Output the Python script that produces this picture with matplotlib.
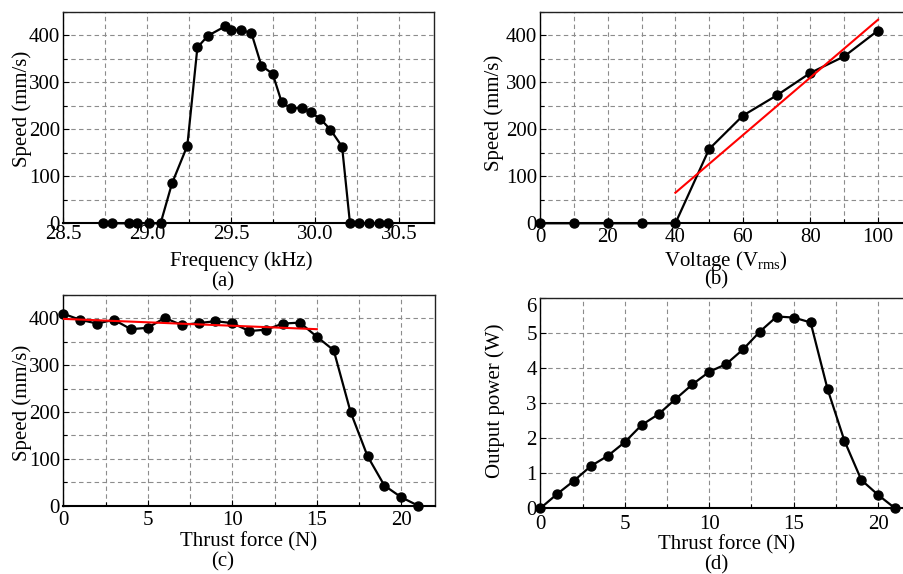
import matplotlib
matplotlib.use("Agg")
import matplotlib.pyplot as plt
import matplotlib.transforms as mtransforms
from matplotlib.ticker import MultipleLocator, FormatStrFormatter

plt.rcParams['font.family'] = ['Liberation Serif', 'DejaVu Serif']
plt.rcParams['mathtext.fontset'] = 'custom'
plt.rcParams['mathtext.rm'] = 'Liberation Serif'
plt.rcParams['mathtext.it'] = 'Liberation Serif:italic'

# (a) speed vs frequency
freq_khz = [28.734, 28.79, 28.889, 28.94, 29.012, 29.079, 29.147, 29.238, 29.298, 29.361,
            29.464, 29.5, 29.556, 29.619, 29.679, 29.746, 29.80, 29.853, 29.92, 29.972,
            30.03, 30.09, 30.159, 30.206, 30.262, 30.321, 30.381, 30.433]
speed_a = [0, 0, 0, 0, 0, 0, 85, 165, 374, 399,
           419, 411, 411, 405, 335, 318, 257, 245, 245, 236,
           222, 199, 163, 0, 0, 0, 0, 0]

# (b) speed vs voltage
voltage = [0, 10, 20, 30, 40, 50, 60, 70, 80, 90, 100]
speed_b = [0, 0, 0, 0, 0, 158, 229, 272, 320, 355, 410]
fit_b_x = [40, 100]
fit_b_y = [65, 433]

# (c) speed vs thrust force
force = list(range(0, 22))
speed_c = [410, 397, 389, 397, 377, 380, 401, 386, 390, 394, 390,
           373, 376, 389, 391, 361, 332, 200, 106, 43, 18, 0]
fit_c_x = [0, 15]
fit_c_y = [399, 377]

# (d) output power vs thrust force
power_d = [0, 0.41, 0.79, 1.21, 1.50, 1.89, 2.38, 2.69, 3.12, 3.54, 3.90,
           4.12, 4.54, 5.05, 5.48, 5.45, 5.31, 3.41, 1.93, 0.81, 0.38, 0]

W, H = 904, 574
fig = plt.figure(figsize=(W / 100, H / 100), dpi=100)

def px_axes(left, right, top, bottom):
    return fig.add_axes([left / W, 1 - bottom / H, (right - left) / W, (bottom - top) / H])

FS = 15

def style(ax, xmaj, xmin, ymaj, ymin, xfmt=None, xpad=3.5):
    ax.xaxis.set_major_locator(MultipleLocator(xmaj))
    ax.xaxis.set_minor_locator(MultipleLocator(xmin))
    ax.yaxis.set_major_locator(MultipleLocator(ymaj))
    ax.yaxis.set_minor_locator(MultipleLocator(ymin))
    if xfmt:
        ax.xaxis.set_major_formatter(FormatStrFormatter(xfmt))
    ax.grid(True, which='both', color='#8c8c8c', linestyle=(0, (4, 3)), linewidth=0.8)
    ax.set_axisbelow(True)
    ax.tick_params(which='both', direction='in', labelsize=FS, top=False, right=False)
    ax.tick_params(which='major', length=4, width=0.8)
    ax.tick_params(axis='y', which='major', pad=2.5)
    ax.tick_params(axis='x', which='major', pad=xpad)
    ax.tick_params(which='minor', length=3, width=0.8)
    for s in ax.spines.values():
        s.set_linewidth(1.0)
        s.set_color('#222222')
    ax.spines['left'].set_color('black')
    ax.spines['bottom'].set_color('black')
    ax.spines['bottom'].set_linewidth(1.5)

def labels(ax, xl, yl, xlx, xly, ylx, yly, tag, tx, ty):
    ax.set_xlabel(xl, fontsize=FS, labelpad=0)
    ax.set_ylabel(yl, fontsize=FS)
    ax.xaxis.set_label_coords(xlx, -xly)
    ax.yaxis.set_label_coords(ylx, yly)
    fig.text(tx / W, 1 - ty / H, tag, ha='center', va='baseline', fontsize=FS)

mk = dict(color='black', marker='o', markersize=6.5, linewidth=1.6, clip_on=False, zorder=3)

# (a)
axa = px_axes(63.3, 434, 11.7, 223.3)
axa.plot(freq_khz, speed_a, **mk)
axa.set_xlim(28.5, 30.706)
axa.set_ylim(0, 450)
style(axa, 0.5, 0.25, 100, 50, '%.1f', xpad=1.0)
labels(axa, 'Frequency (kHz)', 'Speed (mm/s)', 0.479, 0.134, -0.084, 0.54, '(a)', 222.5, 286)

# (b)
axb = px_axes(540.3, 911.8, 11.7, 223.3)
axb.plot(voltage, speed_b, **mk)
axb.plot(fit_b_x, fit_b_y, color='red', linewidth=1.5, zorder=4)
axb.set_xlim(0, 110)
axb.set_ylim(0, 450)
style(axb, 20, 10, 100, 50, xpad=3.5)
labels(axb, r'Voltage (V$_{\mathrm{rms}}$)', 'Speed (mm/s)', 0.5, 0.123, -0.098, 0.52, '(b)', 716, 284)

# (c)
axc = px_axes(63.3, 435.1, 295, 505.7)
axc.plot(force, speed_c, **mk)
axc.plot(fit_c_x, fit_c_y, color='red', linewidth=1.5, zorder=4)
axc.set_xlim(0, 22)
axc.set_ylim(0, 450)
style(axc, 5, 2.5, 100, 50, xpad=3.5)
labels(axc, 'Thrust force (N)', 'Speed (mm/s)', 0.4976, 0.123, -0.084, 0.49, '(c)', 222.5, 566)

# (d)
axd = px_axes(540.3, 912, 298.3, 508.3)
axd.plot(force, power_d, **mk)
axd.set_xlim(0, 22)
axd.set_ylim(0, 6)
style(axd, 5, 2.5, 1, 1, xpad=4.5)
labels(axd, 'Thrust force (N)', 'Output power (W)', 0.5, 0.127, -0.095, 0.51, '(d)', 716, 569)

# the top "6" label sits a little lower in the reference
fig.canvas.draw()
shift = mtransforms.ScaledTranslation(0, -7 / 100, fig.dpi_scale_trans)
for lab in axd.get_yticklabels():
    if lab.get_text() == '6':
        lab.set_transform(lab.get_transform() + shift)

fig.savefig('out.png', dpi=100)
